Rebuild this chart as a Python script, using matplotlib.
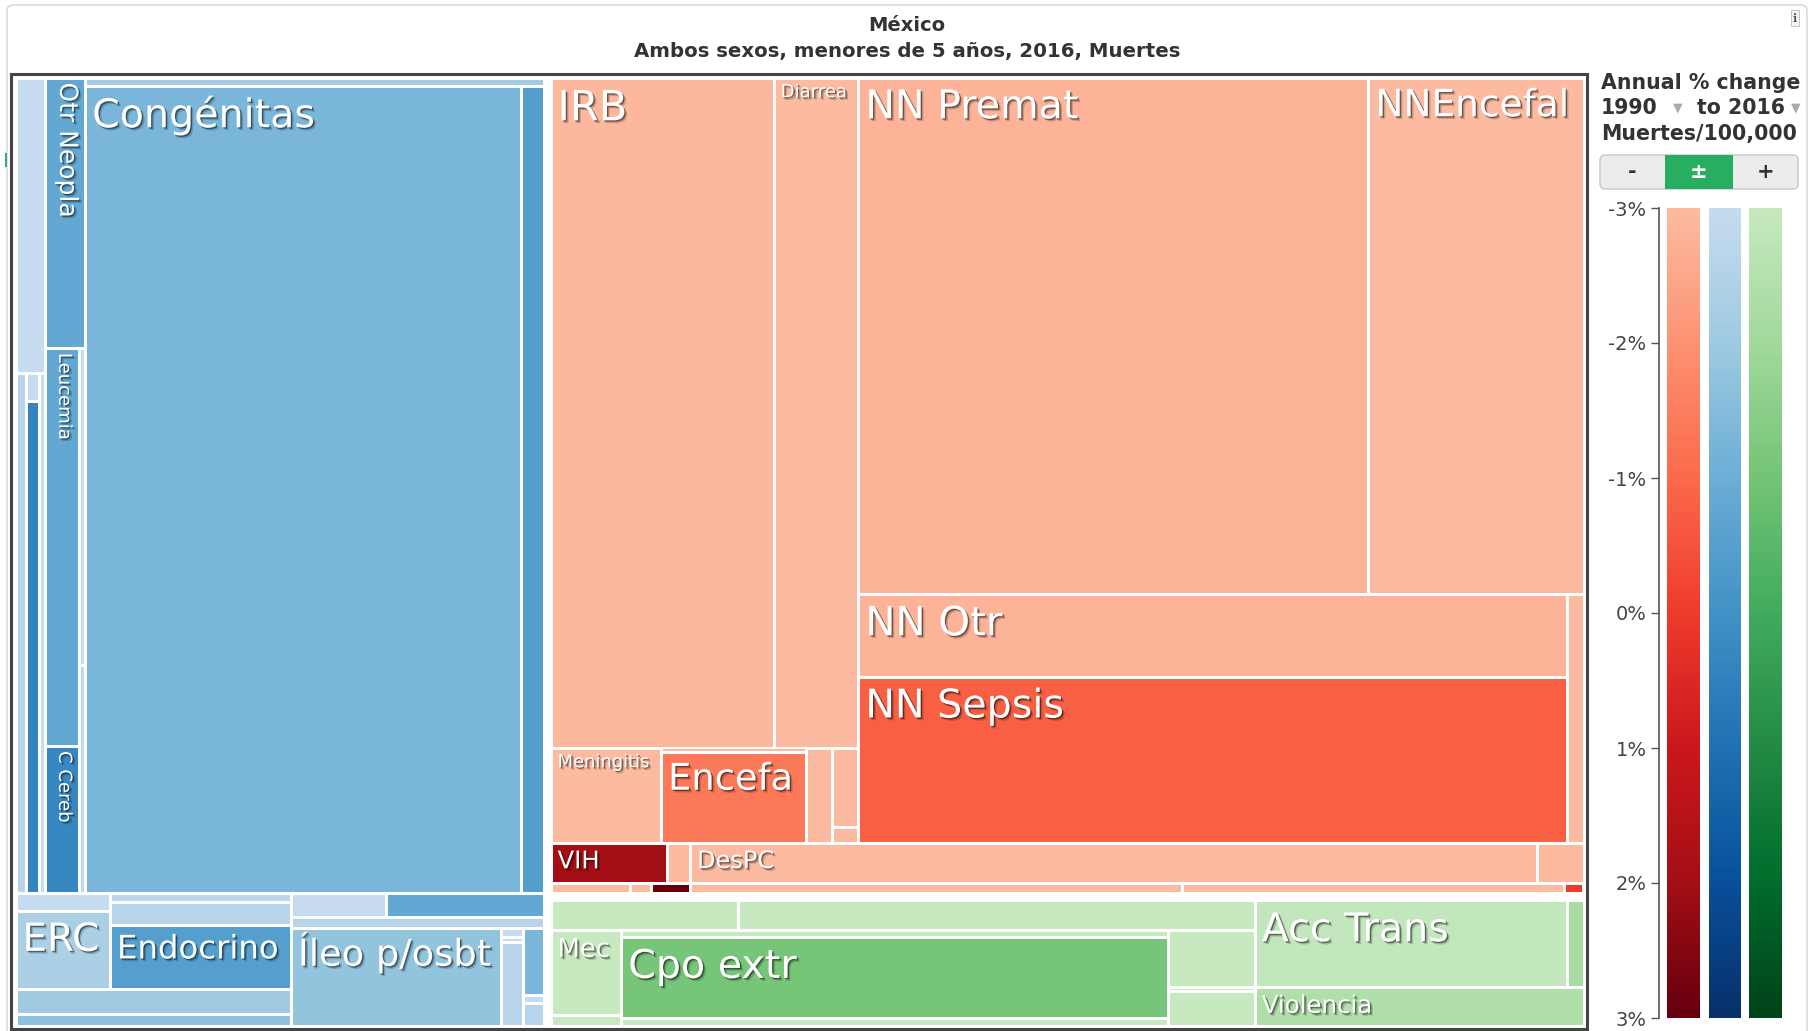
import numpy as np
import matplotlib
matplotlib.use("Agg")
import matplotlib.pyplot as plt
import matplotlib.patheffects as pe
from matplotlib.colors import ListedColormap, Normalize
from matplotlib.patches import Rectangle, FancyBboxPatch

# Under-5 deaths, Mexico 2016 and annual % change 1990-2016.
# An empty label means the cell is too small to carry its name.
NCD_LABELS = ["", "", "", "", "", "Otr Neopla", "Leucemia", "C Cereb", "", "",
              "", "Congénitas", "", "", "ERC", "", "", "Endocrino", "", "",
              "", "", "", "Íleo p/osbt", "", "", "", "", "", ""]
NCD_DEATHS = [222.0, 143.3, 9.1, 160.2, 78.2, 271.0, 339.2, 125.0, 47.7, 34.2,
              103.7, 8847.6, 464.6, 42.8, 185.3, 41.0, 104.7, 291.2, 173.1, 83.1,
              57.6, 94.8, 69.9, 517.0, 5.0, 2.8, 46.2, 35.7, 4.2, 11.6]
NCD_CHANGE = [-3.2, -2.6, -3.0, 0.4, -3.0, -0.8, -0.8, 0.35, -3.0, -2.8,
              -2.1, -1.3, -0.4, -3.0, -2.3, -2.7, -2.6, -0.45, -2.0, -1.7,
              -3.0, -0.8, -2.6, -1.75, -3.0, -3.0, -2.6, -1.3, -3.0, -2.6]

CMD_LABELS = ["IRB", "Diarrea", "Meningitis", "", "Encefa", "", "", "",
              "NN Premat", "NNEncefal", "NN Otr", "NN Sepsis", "",
              "VIH", "", "", "", "", "DesPC", "", "", "", ""]
CMD_DEATHS = [3757.6, 1425.9, 263.6, 14.5, 329.9, 64.1, 52.0, 9.8,
              6617.6, 2791.8, 1475.3, 2950.7, 105.8,
              119.9, 23.6, 20.0, 5.3, 9.8, 871.3, 48.2, 123.5, 96.0, 4.8]
CMD_CHANGE = [-2.9, -3.2, -3.1, -3.0, -1.35, -3.0, -3.0, -3.0,
              -2.8, -3.0, -2.8, -0.77, -3.0,
              2.0, -3.0, -3.0, -3.0, 3.0, -3.0, -3.0, -3.0, -3.0, 0.0]

INJ_LABELS = ["", "", "Mec", "", "", "Cpo extr", "", "", "", "",
              "Acc Trans", "", "Violencia"]
INJ_DEATHS = [142.2, 392.5, 157.6, 19.0, 107.2, 1152.1, 107.2, 129.5, 8.5, 78.6,
              702.6, 38.2, 330.2]
INJ_CHANGE = [-3.0, -3.0, -3.0, -3.0, -3.0, -1.05, -3.0, -3.0, -3.0, -3.0,
              -2.9, -2.2, -2.37]

# how each group is cut: "h" = side by side, "v" = stacked; ints index the lists above
NCD_TREE = ("v", [
    ("h", [("v", [0, ("h", [1, ("v", [2, 3]), 4])]),
           ("v", [5, ("h", [("v", [6, 7]), ("v", [8, 9])])]),
           ("v", [10, ("h", [11, 12])])]),
    ("h", [("v", [("h", [("v", [13, 14]), ("v", [15, 16, 17])]), 18, 19]),
           ("v", [("h", [20, 21]), 22,
                  ("h", [23, ("v", [24, 25, 26]), ("v", [27, 28, 29])])])]),
])
CMD_TREE = ("v", [
    ("h", [("v", [("h", [0, 1]), ("h", [2, ("v", [3, 4]), 5, ("v", [6, 7])])]),
           ("v", [("h", [8, 9]), ("h", [("v", [10, 11]), 12])])]),
    ("h", [("v", [("h", [13, 14]), ("h", [15, 16, 17])]),
           ("v", [("h", [18, 19]), ("h", [20, 21, 22])])]),
])
INJ_TREE = ("h", [
    ("v", [("h", [0, 1]), ("h", [("v", [2, 3]), ("v", [4, 5, 6]), ("v", [7, 8, 9])])]),
    ("v", [("h", [10, 11]), 12]),
])

LEGEND_TICKS = [-3, -2, -1, 0, 1, 2, 3]

# label font sizes (pt)
LABEL_SIZE = {"Congénitas": 28.5, "IRB": 30, "Diarrea": 13, "NN Premat": 28.5,
              "NNEncefal": 27, "NN Otr": 29, "NN Sepsis": 28.5, "Encefa": 26.5,
              "Meningitis": 12.9, "VIH": 17.5, "DesPC": 17.3, "Mec": 18.6,
              "Cpo extr": 28.5, "Acc Trans": 28.5, "Violencia": 17.6, "ERC": 28,
              "Endocrino": 23.3, "Íleo p/osbt": 26.5, "Otr Neopla": 18,
              "Leucemia": 13, "C Cereb": 13}
VERTICAL = {"Otr Neopla", "Leucemia", "C Cereb"}

W, H = 1814, 1031
GAP = 1.5
SHADOW = [pe.SimplePatchShadow(offset=(2.0, -2.0), shadow_rgbFace="#000000", alpha=0.18),
          pe.SimplePatchShadow(offset=(1.0, -1.0), shadow_rgbFace="#000000", alpha=0.45),
          pe.Normal()]

norm = Normalize(-3, 3, clip=True)


def truncated(name):
    return ListedColormap(plt.get_cmap(name)(np.linspace(0.25, 1.0, 256)))


reds, blues, greens = truncated("Reds"), truncated("Blues"), truncated("Greens")


def subtotal(node, vals):
    if isinstance(node, int):
        return vals[node]
    return sum(subtotal(k, vals) for k in node[1])


def layout(node, vals, x0, y0, x1, y1, out):
    if isinstance(node, int):
        out.append((node, x0, y0, x1, y1))
        return
    direction, kids = node
    sizes = [subtotal(k, vals) for k in kids]
    total = sum(sizes)
    pos = x0 if direction == "h" else y0
    span = (x1 - x0) if direction == "h" else (y1 - y0)
    for k, s in zip(kids, sizes):
        step = span * s / total
        if direction == "h":
            layout(k, vals, pos, y0, pos + step, y1, out)
        else:
            layout(k, vals, x0, pos, x1, pos + step, out)
        pos += step


def draw_group(ax, tree, labels, deaths, change, cmap, box):
    cells = []
    layout(tree, deaths, *box, cells)
    for i, x0, y0, x1, y1 in cells:
        gx = min(GAP, (x1 - x0) * 0.3)
        gy = min(GAP, (y1 - y0) * 0.3)
        vx0, vy0, vx1, vy1 = x0 + gx, y0 + gy, x1 - gx, y1 - gy
        ax.add_patch(Rectangle((vx0, vy0), vx1 - vx0, vy1 - vy0,
                               facecolor=cmap(norm(change[i])), edgecolor="none"))
        lab = labels[i]
        if not lab:
            continue
        fs = LABEL_SIZE[lab]
        em = fs * 100 / 72
        if lab in VERTICAL:
            ax.text(vx1 - 5, vy0 + 3, lab, fontsize=fs, color="white", rotation=270,
                    rotation_mode="anchor", ha="left", va="top", path_effects=SHADOW)
        else:
            ax.text(vx0 + 5, vy0 + 0.98 * em, lab, fontsize=fs, color="white",
                    ha="left", va="baseline", path_effects=SHADOW)


fig = plt.figure(figsize=(W / 100, H / 100), dpi=100)
ax = fig.add_axes([0, 0, 1, 1])
ax.set_xlim(0, W)
ax.set_ylim(H, 0)
ax.axis("off")

# widget outline, plot frame
ax.add_patch(FancyBboxPatch((7, 5), 1800, 1040, boxstyle="round,pad=0,rounding_size=6",
                            fill=False, edgecolor="#d4d4d4", lw=1))
ax.add_patch(Rectangle((4.5, 153), 2, 14, facecolor="#2db36b", edgecolor="none"))
ax.text(1795, 18, "i", fontsize=8, fontweight="bold", family="DejaVu Serif",
        ha="center", va="center", color="#555",
        bbox=dict(boxstyle="square,pad=0.2", fc="#f4f4f4", ec="#bbbbbb", lw=0.6))

ax.text(907, 31, "México", fontsize=14, fontweight="bold", color="#333",
        ha="center", va="baseline")
ax.text(907, 57, "Ambos sexos, menores de 5 años, 2016, Muertes", fontsize=14.2,
        fontweight="bold", color="#333", ha="center", va="baseline")

# treemap: NCD column on the left, communicable over injuries on the right
X0, Y0, X1, Y1 = 14, 76, 1586, 1028
GO, GI = 2, 3.5
ncd_t, cmd_t, inj_t = sum(NCD_DEATHS), sum(CMD_DEATHS), sum(INJ_DEATHS)
xs = X0 + (X1 - X0) * ncd_t / (ncd_t + cmd_t + inj_t)
ys = Y0 + (Y1 - Y0) * cmd_t / (cmd_t + inj_t)
draw_group(ax, NCD_TREE, NCD_LABELS, NCD_DEATHS, NCD_CHANGE, blues,
           (X0 + GO, Y0 + GO, xs - GI, Y1 - GO))
draw_group(ax, CMD_TREE, CMD_LABELS, CMD_DEATHS, CMD_CHANGE, reds,
           (xs + GI, Y0 + GO, X1 - GO, ys - GI))
draw_group(ax, INJ_TREE, INJ_LABELS, INJ_DEATHS, INJ_CHANGE, greens,
           (xs + GI, ys + GI, X1 - GO, Y1 - GO))

ax.add_patch(Rectangle((11, 74), 1576, 955, fill=False, edgecolor="#444444", lw=2.2))

# legend header
hdr = dict(fontsize=14.8, fontweight="bold", color="#333", va="center", ha="left")
ax.text(1601, 83, "Annual % change", **hdr)
ax.text(1601, 108, "1990", **hdr)
ax.text(1678, 108, "▼", fontsize=9, color="#aaaaaa", ha="center", va="center")
ax.text(1697, 108, "to 2016", **hdr)
ax.text(1796, 108, "▼", fontsize=9, color="#aaaaaa", ha="center", va="center")
ax.text(1601, 134, "Muertes/100,000", **hdr)

ax.add_patch(FancyBboxPatch((1600, 155), 198, 34, boxstyle="round,pad=0,rounding_size=5",
                            facecolor="#ececec", edgecolor="#c8c8c8", lw=1))
ax.add_patch(Rectangle((1665, 155), 68, 34, facecolor="#27ae60", edgecolor="none"))
ax.text(1632, 172, "-", fontsize=15, fontweight="bold", color="#333", ha="center", va="center")
ax.text(1699, 172, "±", fontsize=15, fontweight="bold", color="white", ha="center", va="center")
ax.text(1766, 172, "+", fontsize=15, fontweight="bold", color="#333", ha="center", va="center")

# colour scale
cb_l, cb_t, cb_w, cb_h = 1659, 208, 131, 810
cax = fig.add_axes([cb_l / W, 1 - (cb_t + cb_h) / H, cb_w / W, cb_h / H])
grad = np.linspace(-3, 3, 256)[:, None]
for cmap, (l, r) in zip([reds, blues, greens], [(8, 41), (50, 82), (90, 123)]):
    cax.imshow(grad, cmap=cmap, norm=norm, extent=(l, r, 3, -3), aspect="auto",
               origin="upper", interpolation="bilinear")
cax.set_xlim(0, cb_w)
cax.set_ylim(3, -3)
cax.set_xticks([])
cax.set_yticks(LEGEND_TICKS)
cax.set_yticklabels([f"{t}%" for t in LEGEND_TICKS])
cax.tick_params(axis="y", length=6, width=1, color="#555555", labelsize=14,
                labelcolor="#444444", pad=3)
for side in ["top", "right", "bottom"]:
    cax.spines[side].set_visible(False)
cax.spines["left"].set_color("#555555")
cax.spines["left"].set_linewidth(1.2)
cax.patch.set_alpha(0)

fig.savefig("out.png", dpi=100)
